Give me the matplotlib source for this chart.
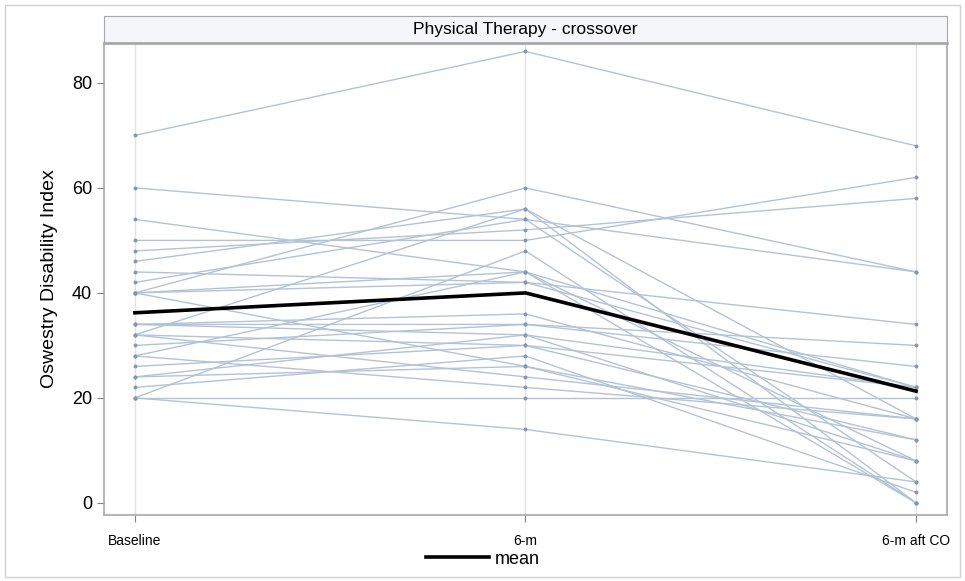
import numpy as np
import matplotlib
matplotlib.use("Agg")
import matplotlib.pyplot as plt
from matplotlib.patches import Rectangle

plt.rcParams["font.family"] = ["Liberation Sans", "DejaVu Sans"]

# ─── Data ────────────────────────────────────────────────
visits = ["Baseline", "6-m", "6-m aft CO"]

baseline = [70, 60, 54, 50, 48, 46, 44, 42, 40, 40, 40, 34, 32, 32,
            30, 28, 28, 26, 24, 24, 22, 20, 20, 20, 32, 34, 34, 40]
month6   = [86, 54, 44, 50, 52, 56, 42, 54, 60, 44, 42, 36, 56, 30,
            34, 44, 22, 30, 26, 32, 28, 20, 14, 48, 24, 32, 34, 26]
after_co = [68, 44, 22, 62, 58, 0, 34, 4, 44, 8, 22, 16, 16, 22,
            30, 0, 16, 12, 12, 8, 2, 20, 4, 0, 16, 22, 26, 8]

title = "Physical Therapy - crossover"
ylabel = "Oswestry Disability Index"

# ─── Figure ──────────────────────────────────────────────
fig = plt.figure(figsize=(9.65, 5.81), dpi=100)
fig.patches.append(Rectangle((0.005, 0.007), 0.99, 0.984, transform=fig.transFigure,
                             fill=False, edgecolor="#d0d0d0", linewidth=1))

ax = fig.add_axes([0.1078, 0.1136, 0.8735, 0.8124])
hdr = fig.add_axes([0.1078, 0.926, 0.8735, 0.0465])

x = np.arange(len(visits))
subjects = np.array([baseline, month6, after_co]).T
for s in subjects:
    ax.plot(x, s, color="#b3c3d6", linewidth=1.0, marker="o", markersize=1.8,
            markerfacecolor="#8198b5", markeredgecolor="#8198b5", zorder=2)

mean = subjects.mean(axis=0)
ax.plot(x, mean, color="black", linewidth=2.6, label="mean", zorder=3)

ax.set_xlim(-0.079, 2.079)
ax.set_ylim(-2.3, 87.6)
ax.set_xticks(x)
ax.set_xticklabels(visits, fontsize=10)
ax.set_yticks([0, 20, 40, 60, 80])
ax.tick_params(axis="y", labelsize=13, length=5, color="#808080")
ax.tick_params(axis="x", length=5, color="#808080", pad=9)
ax.xaxis.grid(True, color="#e3e3e3", linewidth=1)
ax.set_axisbelow(True)
ax.set_ylabel(ylabel, fontsize=14, labelpad=10)
for sp in ax.spines.values():
    sp.set_color("#a8a8a8")
    sp.set_linewidth(1.2)

hdr.set_facecolor("#f5f6fa")
hdr.set_xticks([])
hdr.set_yticks([])
for sp in hdr.spines.values():
    sp.set_color("#a8a8a8")
hdr.spines["bottom"].set_linewidth(2)
hdr.text(0.5, 0.5, title, ha="center", va="center", fontsize=12.5, transform=hdr.transAxes)

fig.legend(handles=ax.get_lines()[-1:], labels=["mean"], loc="lower center",
           bbox_to_anchor=(0.5, -0.005), frameon=False, fontsize=13,
           handlelength=3.5, handletextpad=0.3)

fig.savefig("out.png", dpi=100)
